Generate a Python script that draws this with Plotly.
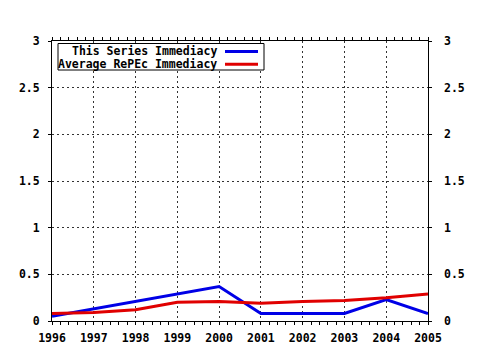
import plotly.graph_objects as go

years = [1996, 1997, 1998, 1999, 2000, 2001, 2002, 2003, 2004, 2005]
series_immediacy = [0.05, 0.13, 0.21, 0.29, 0.37, 0.08, 0.08, 0.08, 0.23, 0.08]
repec_immediacy = [0.08, 0.09, 0.12, 0.20, 0.21, 0.19, 0.21, 0.22, 0.25, 0.29]
series_names = ["This Series Immediacy", "Average RePEc Immediacy"]
series_colors = ["#0000e6", "#e00000"]
y_ticks = [0, 0.5, 1, 1.5, 2, 2.5, 3]
y_labels = ["0", "0.5", "1", "1.5", "2", "2.5", "3"]

FONT = dict(family="DejaVu Sans Mono", size=11.5, color="black", weight="bold")

fig = go.Figure()
for vals, name, col in zip([series_immediacy, repec_immediacy], series_names, series_colors):
    fig.add_trace(go.Scatter(x=years, y=vals, mode="lines", name=name,
                             line=dict(color=col, width=3), showlegend=False))
# invisible trace to activate the right-hand axis
fig.add_trace(go.Scatter(x=years, y=repec_immediacy, yaxis="y2", mode="lines",
                         line=dict(width=0), opacity=0, showlegend=False, hoverinfo="skip"))

grid = dict(showgrid=True, gridcolor="#333333", gridwidth=1, griddash="2px,3px")

fig.update_layout(
    width=480, height=350,
    margin=dict(l=52, r=52, t=41, b=29, autoexpand=False),
    paper_bgcolor="white", plot_bgcolor="white",
    font=FONT,
    xaxis=dict(range=[1996, 2005], tickvals=years, ticktext=[str(y) for y in years],
               showline=True, linecolor="black", linewidth=1, mirror="allticks",
               ticks="outside", ticklen=3, tickcolor="black", ticklabelstandoff=3,
               minor=dict(dtick=0.2, ticks="outside", ticklen=2, tickcolor="black", showgrid=False),
               zeroline=False, tickfont=FONT, automargin=False, **grid),
    yaxis=dict(range=[0, 3], tickvals=y_ticks, ticktext=y_labels,
               showline=True, linecolor="black", linewidth=1, mirror="allticks",
               ticks="outside", ticklen=3, tickcolor="black", ticklabelstandoff=6,
               zeroline=False, tickfont=FONT, automargin=False, **grid),
    yaxis2=dict(range=[0, 3], tickvals=y_ticks, ticktext=y_labels, overlaying="y",
                side="right", showgrid=False, showline=False, ticks="", zeroline=False,
                ticklabelstandoff=15, tickfont=FONT, automargin=False),
    showlegend=False,
)

# custom legend (gnuplot style: text right-aligned, samples on the right)
def px_x(p):
    return (p - 52) / 376
def px_y(p):
    return (321 - p) / 280

fig.add_shape(type="rect", xref="paper", yref="paper",
              x0=px_x(58), x1=px_x(264), y0=px_y(70), y1=px_y(43.5),
              line=dict(color="black", width=1), fillcolor="white", layer="above")
for i, (name, col) in enumerate(zip(series_names, series_colors)):
    yy = px_y(51.5 + i * 12.7)
    fig.add_annotation(x=px_x(219), y=yy, xref="paper", yref="paper", text=name,
                       showarrow=False, xanchor="right", yanchor="middle", font=FONT)
    fig.add_shape(type="line", xref="paper", yref="paper",
                  x0=px_x(225), x1=px_x(258), y0=yy, y1=yy,
                  line=dict(color=col, width=3), layer="above")

fig.write_html("out.html")
